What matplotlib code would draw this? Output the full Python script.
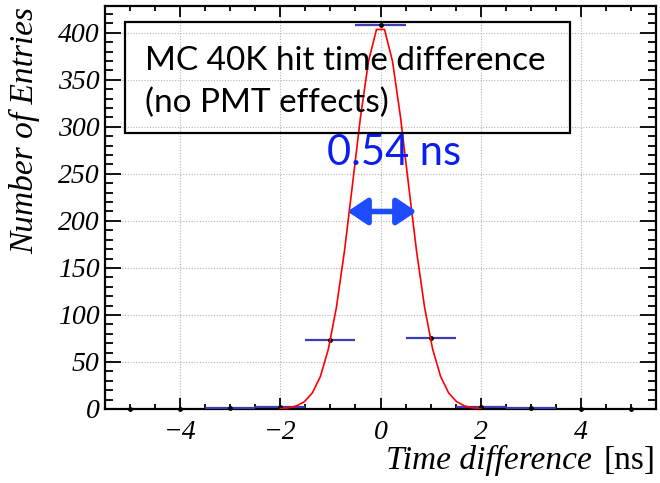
import numpy as np
import matplotlib
matplotlib.use("Agg")
import matplotlib.pyplot as plt
from matplotlib.patches import Rectangle, FancyArrowPatch
from matplotlib.ticker import MultipleLocator

# histogram: bin centres (ns) and entries
bin_centers = [-5, -4, -3, -2, -1, 0, 1, 2, 3, 4, 5]
entries = [0, 0, 1, 2, 73, 408, 75, 2, 1, 0, 0]
bin_width = 1.0

# gaussian fit parameters and range
fit_amp = 408.0
fit_mean = 0.0
fit_sigma = 0.54
fit_range = (-2.0, 2.0)
fit_npoints = 26

# sigma arrow annotation
arrow_x = (-0.66, 0.72)
arrow_y = 210
sigma_label = "0.54 ns"

serif = "Liberation Serif"
plt.rcParams["font.family"] = serif
plt.rcParams["font.style"] = "italic"

W, H = 660, 483
fig = plt.figure(figsize=(W / 100, H / 100), dpi=100)
ax = fig.add_axes([105 / W, 1 - 409 / H, 551 / W, (409 - 6) / H])

ax.set_xlim(-5.5, 5.5)
ax.set_ylim(0, 428.5)
ax.xaxis.set_major_locator(MultipleLocator(2))
ax.xaxis.set_minor_locator(MultipleLocator(0.5))
ax.yaxis.set_major_locator(MultipleLocator(50))
ax.yaxis.set_minor_locator(MultipleLocator(10))
ax.grid(True, which="major", color="#b4b4b4", linestyle=(0, (1, 1.5)), linewidth=0.8)
ax.set_axisbelow(True)

# horizontal bin-width bars only for filled bins, dots for every bin
xc = np.array(bin_centers, dtype=float)
yc = np.array(entries, dtype=float)
filled = yc > 0
ax.hlines(yc[filled], xc[filled] - bin_width / 2, xc[filled] + bin_width / 2,
          color="#3c3cb4", lw=1.6, zorder=3)
ax.plot(xc, yc, "o", color="black", ms=2.5, zorder=4, clip_on=False)

# gaussian fit curve
xf = np.linspace(fit_range[0], fit_range[1], fit_npoints)
yf = fit_amp * np.exp(-0.5 * ((xf - fit_mean) / fit_sigma) ** 2)
ax.plot(xf, yf, color="red", lw=1.2, zorder=5)

# arrow and label
arr = FancyArrowPatch((arrow_x[0], arrow_y), (arrow_x[1], arrow_y),
                      arrowstyle="<|-|>,head_length=12,head_width=8",
                      color="#1f4bff", lw=4, mutation_scale=1,
                      shrinkA=0, shrinkB=0, zorder=6)
ax.add_patch(arr)
fig.text(327 / W, 1 - 165 / H, sigma_label, color="#0a1ef0", fontsize=30,
         family="Lato", style="normal", va="baseline", ha="left")

# ticks, ROOT style (inside, all four sides)
ax.tick_params(axis="both", which="both", direction="in", top=True, right=True,
               width=1.3, colors="black", labelsize=20)
ax.tick_params(axis="y", which="major", length=11.5, pad=4)
ax.tick_params(axis="y", which="minor", length=5.8)
ax.tick_params(axis="x", which="major", length=8, pad=8)
ax.tick_params(axis="x", which="minor", length=3.6)
for sp in ax.spines.values():
    sp.set_linewidth(1.6)

# axis titles
fig.text(25 / W, 1 - 7 / H, "Number of Entries", rotation=90, ha="center", va="top",
         fontsize=24)
fig.text(656 / W, 1 - 469 / H, "[ns]", ha="right", va="baseline",
         style="normal", fontsize=24)
fig.text(592 / W, 1 - 469 / H, "Time difference", ha="right", va="baseline",
         fontsize=24)

# text box
fig.patches.append(Rectangle((125 / W, 1 - 133 / H), 445 / W, 111 / H,
                             transform=fig.transFigure, fill=False,
                             edgecolor="black", lw=1.6, zorder=7))
fig.text(145 / W, 1 - 70 / H, "MC 40K hit time difference", family="Lato",
         style="normal", fontsize=24, va="baseline", ha="left")
fig.text(145 / W, 1 - 112 / H, "(no PMT effects)", family="Lato",
         style="normal", fontsize=24, va="baseline", ha="left")

fig.savefig("out.png", dpi=100)
